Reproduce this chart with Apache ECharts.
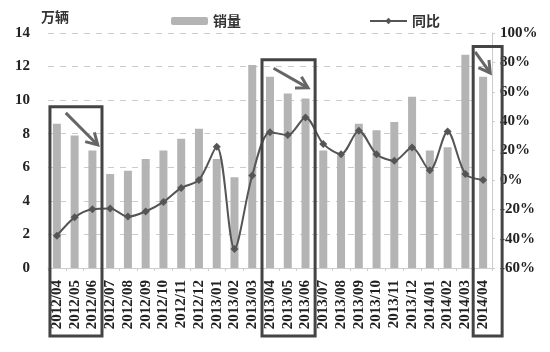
<!DOCTYPE html>
<html>
<head>
<meta charset="utf-8">
<script src="https://cdn.jsdelivr.net/npm/echarts@6/dist/echarts.min.js"></script>
<style>html,body{margin:0;padding:0;background:#fff;}#c{width:550px;height:352px;}</style>
</head>
<body>
<div id="c"></div>
<script>
const categories = ['2012/04','2012/05','2012/06','2012/07','2012/08','2012/09','2012/10','2012/11','2012/12','2013/01','2013/02','2013/03','2013/04','2013/05','2013/06','2013/07','2013/08','2013/09','2013/10','2013/11','2013/12','2014/01','2014/02','2014/03','2014/04'];
const sales = [8.6,7.9,7.0,5.6,5.8,6.5,7.0,7.7,8.3,6.5,5.4,12.1,11.4,10.4,10.1,7.0,6.7,8.6,8.2,8.7,10.2,7.0,7.2,12.7,11.4];
const yoy = [-38,-25.5,-20,-19.5,-25,-21.5,-15,-5.5,0,22.5,-47,3,32.5,30.5,42.5,24.5,17.5,33.5,17.5,13,22,6.5,33,4,0];
const leftTicks = {min:0, max:14, interval:2};
const rightTicks = {min:-60, max:100, interval:20};
// annotation boxes: category-index edges and value-axis top/bottom
const boxes = [
  {left:-0.39, right:2.54, top:9.6, bottom:-4.05},
  {left:11.55, right:14.54, top:12.4, bottom:-4.05},
  {left:23.44, right:25.07, top:13.2, bottom:-4.05}
];
const arrows = [
  {x1:0.5, y1:9.24, x2:2.3, y2:7.33},
  {x1:12.2, y1:11.9, x2:14.14, y2:10.73},
  {x1:23.55, y1:12.87, x2:24.4, y2:11.62}
];

const serif = '"Liberation Serif","Times New Roman",serif';
const chart = echarts.init(document.getElementById('c'));
chart.setOption({
  animation:false,
  backgroundColor:'#fff',
  title:{text:'万辆', left:36, top:5, textStyle:{fontFamily:'"Noto Sans CJK SC"', fontSize:14, fontWeight:'bold', color:'#333'}},
  legend:{
    left:166, top:9, itemWidth:37, itemHeight:8, itemGap:128,
    textStyle:{fontFamily:'"Noto Sans CJK SC"', fontSize:14, fontWeight:'bold', color:'#333'},
    data:['销量','同比']
  },
  grid:{left:48, right:58, top:33, bottom:84},
  xAxis:{
    type:'category', data:categories,
    axisLine:{lineStyle:{color:'#ccc'}},
    axisTick:{show:true, lineStyle:{color:'#ccc'}, length:3},
    axisLabel:{rotate:90, interval:0, margin:12, fontFamily:serif, fontSize:15, fontWeight:'bold', color:'#222'}
  },
  yAxis:[
    {type:'value', min:leftTicks.min, max:leftTicks.max, interval:leftTicks.interval,
     axisLine:{show:false}, axisTick:{show:false},
     splitLine:{lineStyle:{color:'#ccc', type:[6,6]}},
     axisLabel:{fontFamily:serif, fontSize:15, fontWeight:'bold', color:'#222', margin:18}},
    {type:'value', min:rightTicks.min, max:rightTicks.max, interval:rightTicks.interval,
     axisLine:{show:true, lineStyle:{color:'#ccc'}}, axisTick:{show:true, length:3, lineStyle:{color:'#ccc'}},
     splitLine:{show:false},
     axisLabel:{formatter:'{value}%', fontFamily:serif, fontSize:15, fontWeight:'bold', color:'#222', margin:8}}
  ],
  series:[
    {name:'销量', type:'bar', data:sales, barWidth:8, itemStyle:{color:'#b4b4b4'}},
    {name:'同比', type:'line', yAxisIndex:1, data:yoy, smooth:0.3, symbol:'diamond', symbolSize:8,
     lineStyle:{color:'#555', width:2}, itemStyle:{color:'#555'}}
  ]
});

function px(ci, v){
  const x0 = chart.convertToPixel({xAxisIndex:0}, 0);
  const x1 = chart.convertToPixel({xAxisIndex:0}, 1);
  const y = chart.convertToPixel({yAxisIndex:0}, v);
  return [x0 + ci*(x1-x0), y];
}
const g = [];
boxes.forEach(b=>{
  const p1 = px(b.left, b.top), p2 = px(b.right, b.bottom);
  g.push({type:'rect', shape:{x:p1[0], y:p1[1], width:p2[0]-p1[0], height:p2[1]-p1[1]},
    style:{fill:'none', stroke:'#444', lineWidth:3}, z:100});
});
arrows.forEach(a=>{
  const s = px(a.x1, a.y1), e = px(a.x2, a.y2);
  const dx = e[0]-s[0], dy = e[1]-s[1], len = Math.hypot(dx,dy);
  const ux = dx/len, uy = dy/len, L = 13, ang = Math.PI/6;
  const h1 = [e[0] - L*(ux*Math.cos(ang) - uy*Math.sin(ang)), e[1] - L*(uy*Math.cos(ang) + ux*Math.sin(ang))];
  const h2 = [e[0] - L*(ux*Math.cos(-ang) - uy*Math.sin(-ang)), e[1] - L*(uy*Math.cos(-ang) + ux*Math.sin(-ang))];
  g.push({type:'line', shape:{x1:s[0], y1:s[1], x2:e[0], y2:e[1]}, style:{stroke:'#666', lineWidth:3}, z:101});
  g.push({type:'polyline', shape:{points:[h1, e, h2]}, style:{stroke:'#666', lineWidth:3, fill:'none'}, z:101});
});
chart.setOption({graphic:g});
</script>
</body>
</html>
